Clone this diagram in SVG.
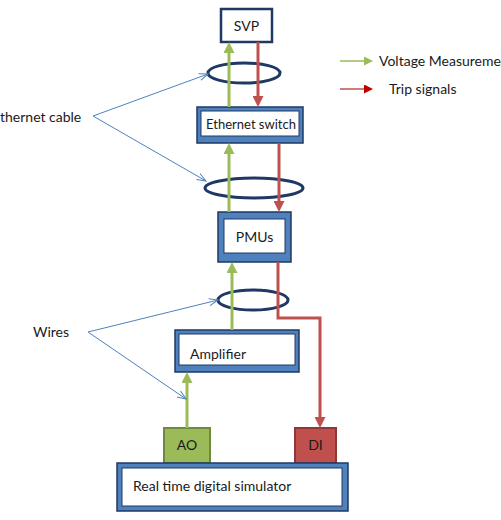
<svg xmlns="http://www.w3.org/2000/svg" width="501" height="520" viewBox="0 0 501 520">
<style>
text{font-family:Lato,"Liberation Sans",sans-serif;font-size:14px;fill:#1a1a1a}
.frame{fill:#4f81bd;stroke:#1f3864;stroke-width:1.5}
.inner{fill:#fff;stroke:#1f3864;stroke-width:1}
.cable{fill:none;stroke:#1f3864;stroke-width:3}
.g{fill:none;stroke:#9bbb59;stroke-width:3;marker-end:url(#ga)}
.r{fill:none;stroke:#c0504d;stroke-width:3;marker-end:url(#ra)}
.b{fill:none;stroke:#4f81bd;stroke-width:1;marker-end:url(#ba)}
</style>
<defs>
<marker id="ga" markerUnits="userSpaceOnUse" markerWidth="11" markerHeight="11" refX="5" refY="5.5" orient="auto"><path d="M0,0 L11,5.5 L0,11 z" fill="#9bbb59"/></marker>
<marker id="ra" markerUnits="userSpaceOnUse" markerWidth="11" markerHeight="11" refX="5" refY="5.5" orient="auto"><path d="M0,0 L11,5.5 L0,11 z" fill="#c0504d"/></marker>
<marker id="gl" markerUnits="userSpaceOnUse" markerWidth="9" markerHeight="9" refX="1" refY="4.5" orient="auto"><path d="M0,0 L9,4.5 L0,9 z" fill="#9bbb59"/></marker>
<marker id="rl" markerUnits="userSpaceOnUse" markerWidth="9" markerHeight="9" refX="1" refY="4.5" orient="auto"><path d="M0,0 L9,4.5 L0,9 z" fill="#c00000"/></marker>
<marker id="ba" markerUnits="userSpaceOnUse" markerWidth="10" markerHeight="8" refX="9" refY="4" orient="auto"><path d="M0,0.5 L9,4 L0,7.5" fill="none" stroke="#4f81bd" stroke-width="1"/></marker>
</defs>

<g id="svp">
<rect x="221" y="9" width="51" height="33" fill="#fff" stroke="#1f3864" stroke-width="2.5"/>
<text x="246.5" y="31" text-anchor="middle">SVP</text>
</g>

<g id="ethernet-switch">
<rect class="frame" x="197" y="107" width="106" height="36"/>
<rect class="inner" x="201" y="111" width="98" height="25"/>
<text x="251" y="129" text-anchor="middle" style="font-size:13px">Ethernet switch</text>
</g>

<g id="pmus">
<rect class="frame" x="218" y="212" width="73" height="50"/>
<rect class="inner" x="224" y="219" width="61" height="34"/>
<text x="254.5" y="242" text-anchor="middle">PMUs</text>
</g>

<g id="amplifier">
<rect class="frame" x="175" y="330" width="124" height="42"/>
<rect class="inner" x="179" y="334" width="116" height="31"/>
<text x="190" y="359">Amplifier</text>
</g>

<g id="ao">
<rect x="164" y="428" width="46" height="35" fill="#9bbb59" stroke="#71893f" stroke-width="2"/>
<text x="187" y="450" text-anchor="middle">AO</text>
</g>

<g id="di">
<rect x="295" y="428" width="41" height="35" fill="#c0504d" stroke="#8c3836" stroke-width="2"/>
<text x="315.5" y="450" text-anchor="middle">DI</text>
</g>

<g id="simulator">
<rect class="frame" x="117" y="463" width="231" height="48"/>
<rect class="inner" x="122" y="468" width="220" height="38"/>
<text x="133" y="491">Real time digital simulator</text>
</g>

<g id="cables">
<ellipse class="cable" cx="244" cy="73" rx="36" ry="10"/>
<ellipse class="cable" cx="254" cy="188" rx="49" ry="10"/>
<ellipse class="cable" cx="253" cy="300" rx="35" ry="10"/>
</g>

<g id="labels">
<text x="0" y="122">thernet cable</text>
<text x="33" y="337">Wires</text>
</g>

<g id="legend">
<line x1="340" y1="61" x2="365" y2="61" stroke="#9bbb59" stroke-width="1.5" marker-end="url(#gl)"/>
<text x="379" y="66">Voltage Measureme</text>
<line x1="340" y1="89" x2="365" y2="89" stroke="#c0504d" stroke-width="1.5" marker-end="url(#rl)"/>
<text x="389" y="94">Trip signals</text>
</g>

<g id="connectors">
<path class="g" d="M229,107 V48"/>
<path class="g" d="M229,212 V149"/>
<path class="g" d="M232,330 V268"/>
<path class="g" d="M187,428 V378"/>
<path class="r" d="M258,42 V101"/>
<path class="r" d="M279,143 V206"/>
<path class="r" d="M278,262 V318 H320 V422"/>
<path class="b" d="M93,116 L208,74"/>
<path class="b" d="M93,116 L206,181"/>
<path class="b" d="M88,332 L218,300"/>
<path class="b" d="M88,332 L186,399"/>
</g>
</svg>
